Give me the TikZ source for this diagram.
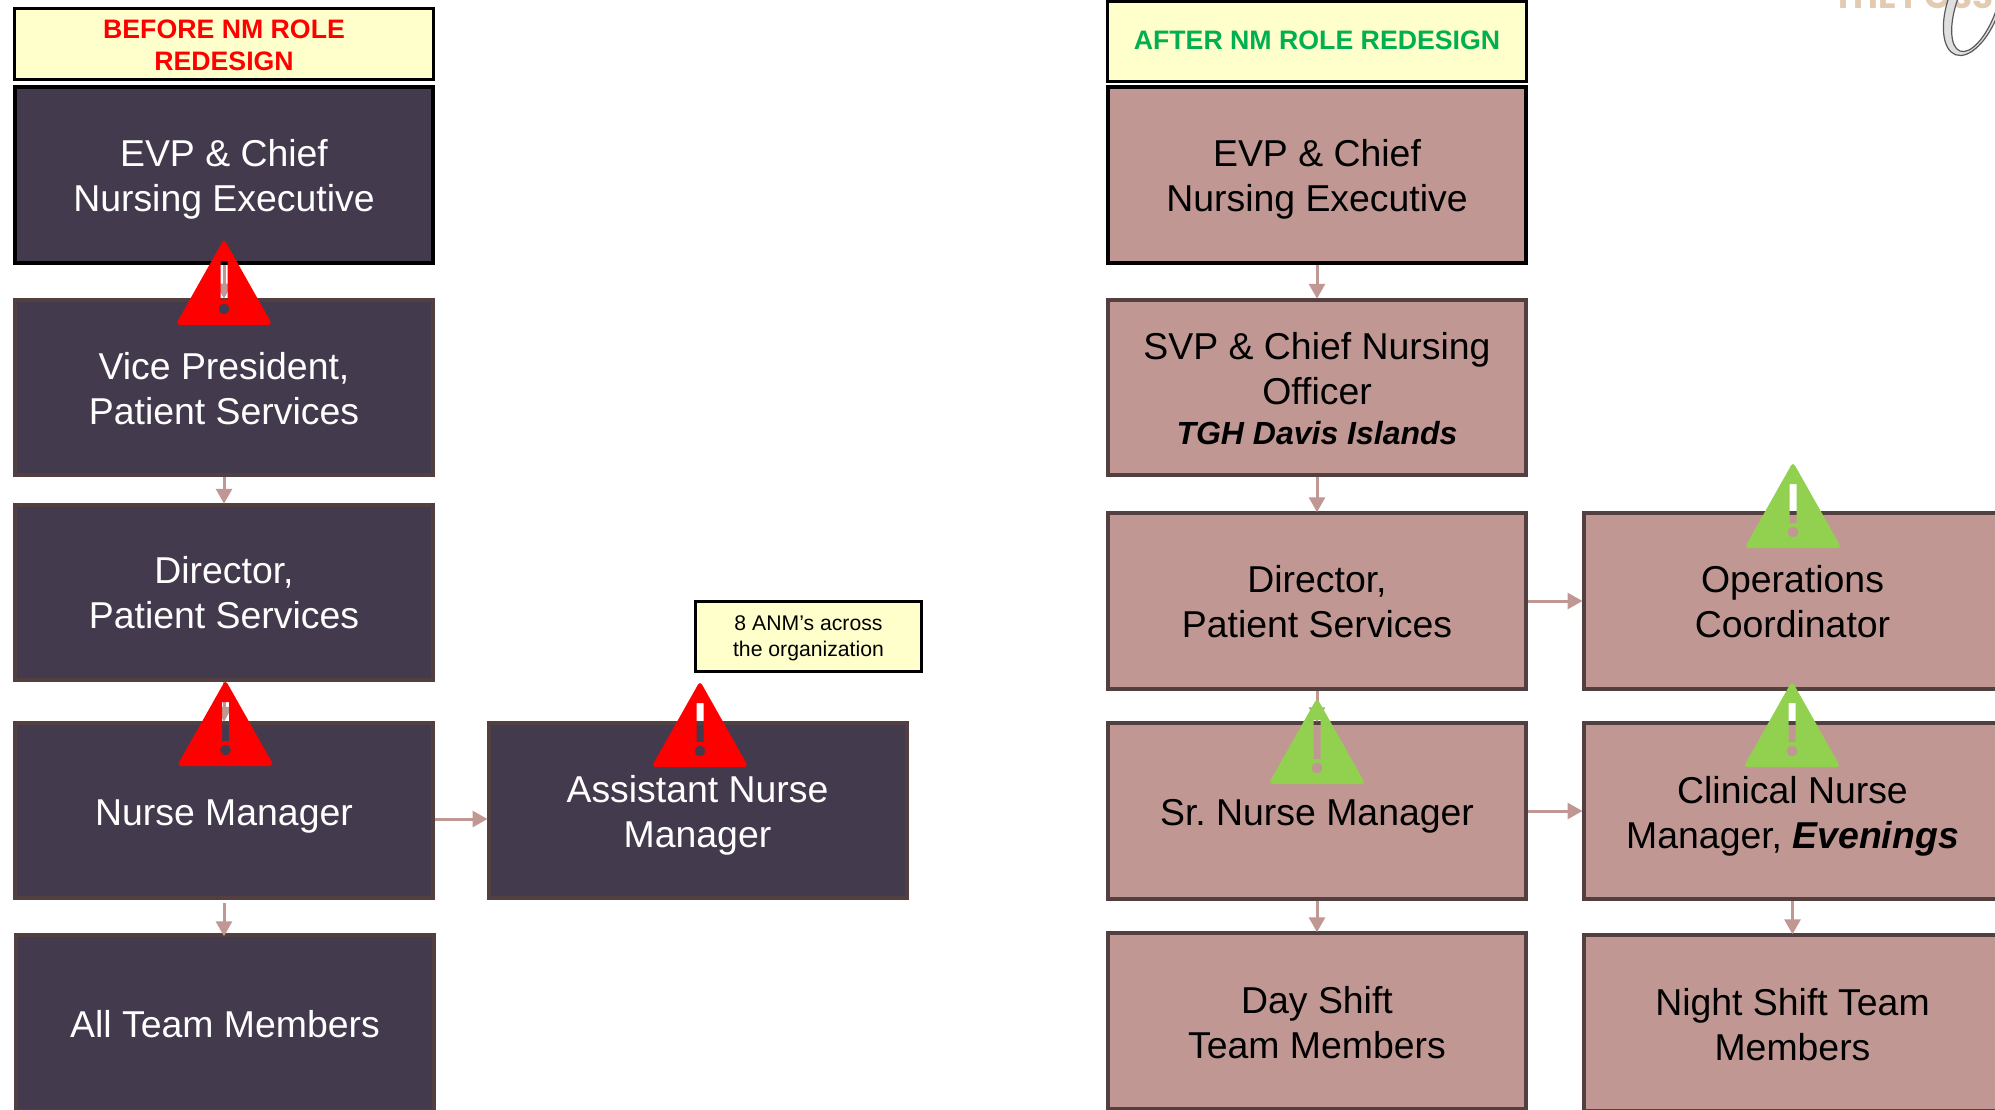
\documentclass[tikz,border=0pt]{standalone}
\usepackage{fontspec}
\setmainfont{Liberation Sans}
\newfontfamily\logofont{Poppins}
\usetikzlibrary{arrows.meta}
\definecolor{darkbox}{HTML}{433A4D}
\definecolor{rosebox}{HTML}{C09792}
\definecolor{edgebrown}{HTML}{523F3F}
\definecolor{notefill}{HTML}{FFFFCC}
\definecolor{warngreen}{HTML}{92D050}
\definecolor{aftergreen}{HTML}{00B050}
\definecolor{logotan}{HTML}{E2CBB0}
\tikzset{
  x=1pt,y=-1pt,
  orgbox/.style={rectangle,inner sep=0pt,line width=4pt,minimum width=418pt,minimum height=175.5pt},
  darkstyle/.style={orgbox,fill=darkbox,draw=edgebrown},
  rosestyle/.style={orgbox,fill=rosebox,draw=edgebrown},
  orgtext/.style={inner sep=0pt,align=center,font=\frenchspacing\fontsize{37.4}{45}\selectfont},
  darktext/.style={orgtext,text=white},
  rosetext/.style={orgtext,text=black},
  headbox/.style={rectangle,inner sep=0pt,fill=notefill,draw=black,line width=3pt,minimum width=419pt},
  headtext/.style={inner sep=0pt,align=center,font=\fontsize{26.7}{32}\selectfont\bfseries},
  notebox/.style={rectangle,inner sep=0pt,fill=notefill,draw=black,line width=2.5pt,minimum width=226pt,minimum height=70pt},
  notetext/.style={inner sep=0pt,align=center,font=\fontsize{21.2}{26}\selectfont},
  flow/.style={draw=rosebox,line width=3pt,-{Triangle[width=16pt,length=15pt]},shorten >=-1pt},
}
\newcommand{\warnsign}[3]{%
  \fill[#3,even odd rule,rounded corners=4pt]
    (#1,#2-2) -- (#1-48.5,#2+84) -- (#1+48.5,#2+84) -- cycle
    [sharp corners]
    (#1-3.5,#2+20) rectangle (#1+3.5,#2+59)
    (#1,#2+68) circle[radius=5.5];}
\begin{document}
\begin{tikzpicture}
\useasboundingbox (0,0) rectangle (1995,1109);
\fill[white] (0,0) rectangle (1995,1109);
% logo fragment
\begin{scope}
\clip (0,0) rectangle (1995,1109);
\node[anchor=base west,inner sep=0pt,text=logotan,font=\logofont\bfseries\fontsize{34}{36}\selectfont] (logo) at (1833,8) {THE POSSI};
\draw[gray!70!black,line width=1.2pt,fill=gray!25,even odd rule,rotate around={-20:(1974,4)}]
  (1974,4) ellipse[x radius=26,y radius=54]
  (1977,4) ellipse[x radius=20,y radius=49];
\end{scope}
% left column
\node[headbox,minimum height=71pt] (hb) at (224,44) {};
\node[headtext] (hbt) at ([yshift=-1pt]hb) {\textcolor{red}{BEFORE NM ROLE}\\\textcolor{red}{REDESIGN}};
\node[darkstyle,draw=black] (b1) at (224,175) {};
\node[darkstyle] (b2) at (224,387.3) {};
\node[darkstyle] (b3) at (224,592.5) {};
\node[darkstyle] (b4) at (224,810.5) {};
\node[darkstyle] (b5) at (225,1023) {};
\node[darkstyle] (b6) at (697.5,810.5) {};
\node[notebox] (note) at (808.5,636.5) {};
% right columns
\node[headbox,minimum height=80pt] (ha) at (1317,41) {};
\node[headtext] (hat) at (1317,40.5) {\textcolor{aftergreen}{AFTER NM ROLE REDESIGN}};
\node[rosestyle,draw=black] (a1) at (1317,175) {};
\node[rosestyle] (a2) at (1317,387.5) {};
\node[rosestyle] (a3) at (1317,601) {};
\node[rosestyle] (a4) at (1317,811) {};
\node[rosestyle] (a5) at (1317,1021) {};
\node[rosestyle] (c1) at (1792.5,601) {};
\node[rosestyle] (c2) at (1792.5,811) {};
\node[rosestyle] (c3) at (1792.5,1023) {};
% box texts
\node[darktext] (b1t) at ([yshift=-4pt]b1) {EVP \& Chief\\Nursing Executive};
\node[darktext] (b2t) at ([yshift=-1.5pt]b2) {Vice President,\\Patient Services};
\node[darktext] (b3t) at (b3) {Director,\\Patient Services};
\node[darktext] (b4t) at ([yshift=-6pt]b4) {Nurse Manager};
\node[darktext] (b5t) at ([yshift=-1pt]b5) {All Team Members};
\node[darktext] (b6t) at ([yshift=-5pt]b6) {Assistant Nurse\\Manager};
\node[notetext] (notet) at ([yshift=-2pt]note) {8 ANM’s across\\the organization};
\node[rosetext] (a1t) at ([yshift=-4pt]a1) {EVP \& Chief\\Nursing Executive};
\node[rosetext] (a2t) at ([yshift=-1.5pt]a2) {SVP \& Chief Nursing\\Officer\\[-5pt]{\fontsize{32}{38}\selectfont\bfseries\itshape TGH Davis Islands}};
\node[rosetext] (a3t) at ([yshift=-1pt]a3) {Director,\\Patient Services};
\node[rosetext] (a4t) at ([yshift=-5pt]a4) {Sr. Nurse Manager};
\node[rosetext] (a5t) at ([yshift=-2pt]a5) {Day Shift\\Team Members};
\node[rosetext] (c1t) at ([yshift=-1pt]c1) {Operations\\Coordinator};
\node[rosetext] (c2t) at ([yshift=-5pt]c2) {Clinical Nurse\\Manager, {\bfseries\itshape Evenings}};
\node[rosetext] (c3t) at ([yshift=-2pt]c3) {Night Shift Team\\Members};
% connectors
\draw[flow] (b1) -- (b2);
\draw[flow] (b2) -- (b3);
\draw[flow] (b3) -- (b4);
\draw[flow,shorten <=3pt,shorten >=-3pt] (b4.south) -- (b4.south |- b5.north);
\draw[flow] ([yshift=-8.5pt]b4.east) -- ([yshift=-8.5pt]b6.west);
\draw[flow] (a1) -- (a2);
\draw[flow] (a2) -- (a3);
\draw[flow] (a3) -- (a4);
\draw[flow] (a4) -- (a5);
\draw[flow] (a3) -- (c1);
\draw[flow] (a4) -- (c2);
\draw[flow] (c2) -- (c3);
% warning signs
\warnsign{224}{241}{red}
\warnsign{225.5}{682}{red}
\warnsign{700}{683}{red}
\warnsign{1317}{700}{warngreen}
\warnsign{1793}{464}{warngreen}
\warnsign{1792}{683}{warngreen}
\end{tikzpicture}
\end{document}
